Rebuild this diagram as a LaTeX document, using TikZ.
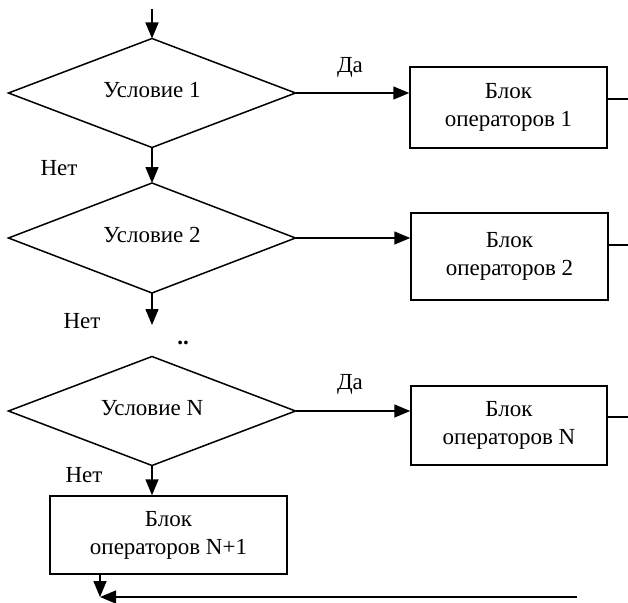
\documentclass[tikz,border=0pt]{standalone}
\usepackage{fontspec}
\setmainfont{Liberation Serif}
\usetikzlibrary{shapes.geometric,arrows.meta}
\begin{document}
\begin{tikzpicture}[x=1pt,y=-1pt,
  every node/.style={font=\fontsize{23}{28}\selectfont},
  line/.style={line width=1.5pt},
  arr/.style={line width=1.5pt,-{Triangle[length=16pt,width=13pt]}},
  cond/.style={draw,line width=1.5pt,diamond,aspect=2.63,inner sep=0pt,outer sep=0pt,minimum width=287pt,minimum height=109pt},
  blockbox/.style={draw,line width=1.5pt,rectangle,inner sep=0pt,align=center},
  lab/.style={inner sep=0pt}]
\useasboundingbox (0,0) rectangle (628,602);
\coordinate (start) at (152,9);
\node[cond] (d1) at (152,93) {\raisebox{7pt}{Условие 1}};
\node[cond,minimum height=110pt] (d2) at (152,238) {\raisebox{7pt}{Условие 2}};
\node[cond] (dN) at (152,411) {\raisebox{7pt}{Условие N}};
\node[blockbox,minimum width=197pt,minimum height=81pt] (b1) at (508.5,107.5) {Блок\\операторов 1};
\node[blockbox,minimum width=197pt,minimum height=87pt] (b2) at (509.5,256.5) {Блок\\операторов 2};
\node[blockbox,minimum width=196pt,minimum height=79pt] (bN) at (509,425.5) {Блок\\операторов N};
\node[blockbox,minimum width=237pt,minimum height=78pt] (bN1) at (168.5,535) {Блок\\операторов N+1};
\node[lab] (da1) at (350,67) {Да};
\node[lab] (daN) at (350,384) {Да};
\node[lab] (net1) at (59,168) {Нет};
\node[lab] (net2) at (82,321) {Нет};
\node[lab] (netN) at (84,475) {Нет};
\node[lab] (dots) at (183,343) {\textbf{..}};
\coordinate (gap) at (152,325);
\coordinate (s1) at (628,99);
\coordinate (s2) at (628,245);
\coordinate (sN) at (628,417);
\coordinate (m) at (100,597);
\coordinate (e) at (577,597);
\draw[arr] (start) -- (d1.north);
\draw[arr] (d1.south) -- (d2.north);
\draw[arr] (d2.south) -- (gap);
\draw[arr] (dN.south) -- (dN.south |- bN1.north);
\draw[arr] (d1.east) -- (d1.east -| b1.west);
\draw[arr] (d2.east) -- (d2.east -| b2.west);
\draw[arr] (dN.east) -- (dN.east -| bN.west);
\draw[line] (b1.east |- s1) -- (s1);
\draw[line] (b2.east |- s2) -- (s2);
\draw[line] (bN.east |- sN) -- (sN);
\draw[arr] (bN1.south -| m) -- (m);
\draw[arr] (e) -- (m);
\end{tikzpicture}
\end{document}
